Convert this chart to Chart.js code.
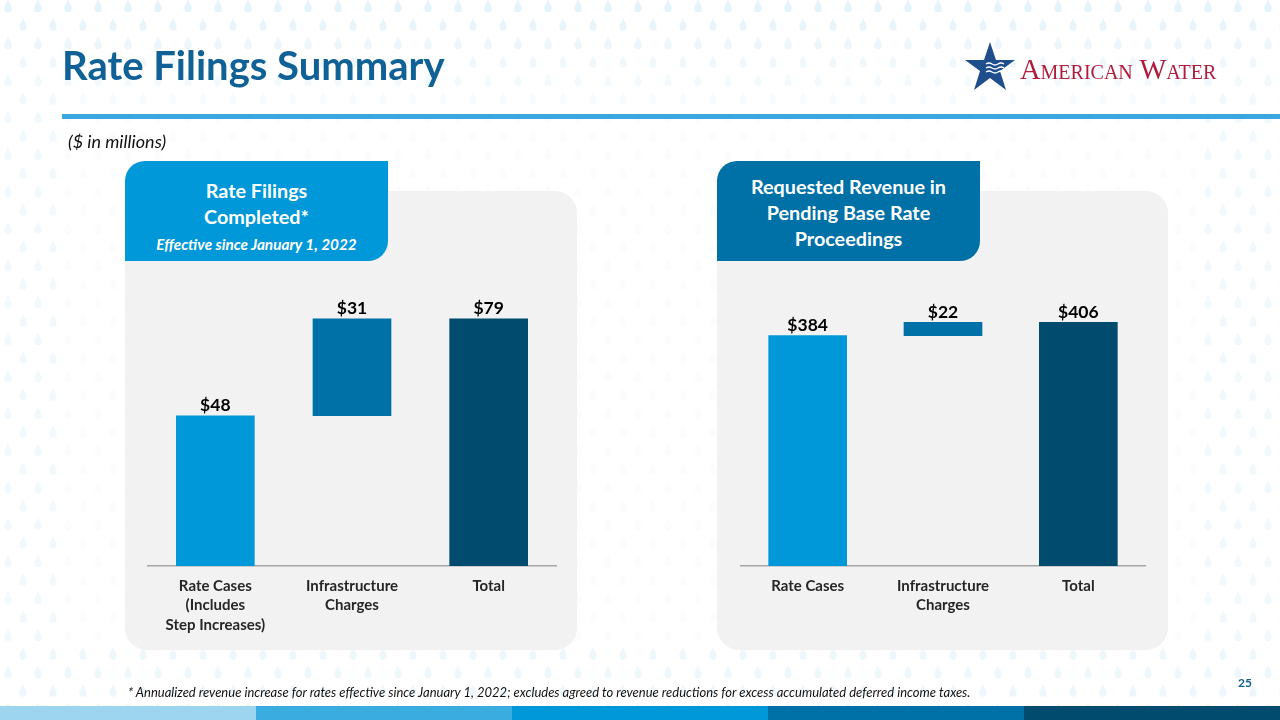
<!DOCTYPE html>
<html>
<head>
<meta charset="utf-8">
<script src="https://cdn.jsdelivr.net/npm/chart.js@4.4.1/dist/chart.umd.min.js"></script>
<style>
  body { margin: 0; background: #fff; }
  #slide { position: relative; width: 1280px; height: 720px; overflow: hidden; font-family: Lato, "Open Sans", sans-serif; }
  #bg { position: absolute; left: 0; top: 0; }
  .abs { position: absolute; }
  .title { left: 62px; top: 41px; font-size: 40px; font-weight: 700; color: #0F6196; }
  .rule { left: 62px; top: 114px; width: 1218px; height: 5px; background: #3AA8DE; }
  .units { left: 68px; top: 130px; font-size: 18px; font-style: italic; color: #111; }
  .panel { background: #F2F2F2; border-radius: 22px; }
  .tab { color: #fff; text-align: center; font-weight: 700; font-size: 19.8px; line-height: 26px;
         border-radius: 20px 0 20px 0; box-sizing: border-box; }
  .tab i { font-size: 15.3px; font-weight: 700; }
  .foot { left: 128px; top: 684px; font-size: 13px; font-style: italic; color: #111; }
  .page { left: 1238px; top: 675px; font-size: 12px; font-weight: 700; color: #0F6196; }
  .strip { top: 706px; height: 14px; width: 256px; }
</style>
</head>
<body>
<div id="slide">
  <canvas id="bg" width="1280" height="720"></canvas>

  <div class="abs title">Rate Filings Summary</div>

  <svg class="abs" style="left:962px;top:40px" width="270" height="56" viewBox="0 0 270 56">
    <polygon points="28,2 34,20 53,20 38,31 44,50 28,38 12,50 18,31 3,20 22,20" fill="#1F4E8C"/>
    <path d="M24 24 q3 -2 6 0 t6 0 t6 0 M24 28 q3 -2 6 0 t6 0 t6 0 M24 32 q3 -2 6 0 t6 0 t6 0" stroke="#fff" stroke-width="1.3" fill="none"/>
    <text x="58" y="39" font-family="Liberation Serif, serif" font-size="28.5" fill="#B01C3C" style="font-variant: small-caps;">American Water</text>
  </svg>

  <div class="abs rule"></div>
  <div class="abs units">($ in millions)</div>

  <div class="abs panel" style="left:125px;top:191px;width:452px;height:459px"></div>
  <div class="abs tab" style="left:125px;top:161px;width:263px;height:100px;background:#0098D8;padding-top:16px">
    Rate Filings<br>Completed*<br><i>Effective since January 1, 2022</i>
  </div>

  <div class="abs panel" style="left:717px;top:191px;width:451px;height:459px"></div>
  <div class="abs tab" style="left:717px;top:161px;width:263px;height:100px;background:#0071A6;padding-top:12px">
    Requested Revenue in<br>Pending Base Rate<br>Proceedings
  </div>

  <div class="abs" style="left:147px;top:253px;width:410px;height:397px"><canvas id="leftChart"></canvas></div>
  <div class="abs" style="left:740px;top:266px;width:406px;height:384px"><canvas id="rightChart"></canvas></div>

  <div class="abs foot">* Annualized revenue increase for rates effective since January 1, 2022; excludes agreed to revenue reductions for excess accumulated deferred income taxes.</div>
  <div class="abs page">25</div>

  <div class="abs strip" style="left:0;background:#9DD5F0"></div>
  <div class="abs strip" style="left:256px;background:#3AACE0"></div>
  <div class="abs strip" style="left:512px;background:#0098D8"></div>
  <div class="abs strip" style="left:768px;background:#0071A6"></div>
  <div class="abs strip" style="left:1024px;background:#004B6E"></div>
</div>

<script>
//! =============== Data =============== //
const leftCategories = [['Rate Cases', '(Includes', 'Step Increases)'], ['Infrastructure', 'Charges'], 'Total'];
const leftValues = [48, 31, 79];

const rightCategories = ['Rate Cases', ['Infrastructure', 'Charges'], 'Total'];
const rightValues = [384, 22, 406];

const barColors = ['#0098D8', '#0071A6', '#004B6E'];


//! =============== Background drops =============== //
const bg = document.getElementById('bg').getContext('2d');

function drop(x, y, s) {
  bg.beginPath();
  bg.moveTo(x, y - s * 1.1);
  bg.bezierCurveTo(x + s * 0.2, y - s * 0.5, x + s * 0.7, y, x + s * 0.6, y + s * 0.45);
  bg.arc(x, y + s * 0.45, s * 0.6, 0, Math.PI);
  bg.bezierCurveTo(x - s * 0.7, y, x - s * 0.2, y - s * 0.5, x, y - s * 1.1);
  bg.fill();
}

for (let row = 0; row < 40; row++) {
  const y = 6 + row * 18.5;
  const shift = row % 2 ? 15 : 0;
  for (let col = 0; col < 45; col++) {
    const x = 8 + shift + col * 30;
    let a = 0.05;
    if (y < 110) a = 0.26 - y * 0.0019;
    if (y > 640) a = 0.16;
    if (x < 60 || x > 1200) a = Math.max(a, 0.12);
    bg.fillStyle = `rgba(150, 205, 235, ${a})`;
    drop(x, y, 6);
  }
}


//! =============== Charts =============== //
function waterfall(values) {
  return [[0, values[0]], [values[0], values[0] + values[1]], [0, values[2]]];
}

const barLabels = {
  id: 'barLabels',
  afterDatasetsDraw(chart) {
    const { ctx } = chart;
    const vals = chart.options.plugins.barLabels.values;
    chart.getDatasetMeta(0).data.forEach((bar, i) => {
      ctx.save();
      ctx.font = 'bold 17.5px Lato';
      ctx.fillStyle = '#000';
      ctx.textAlign = 'center';
      ctx.textBaseline = 'middle';
      ctx.fillText('$' + vals[i], bar.x, Math.min(bar.y, bar.base) - 10);
      ctx.restore();
    });
  }
};

function makeChart(id, labels, values, max) {
  return new Chart(document.getElementById(id), {
    type: 'bar',
    data: {
      labels: labels,
      datasets: [{
        data: waterfall(values),
        backgroundColor: barColors,
        barThickness: 78,
        borderWidth: 0
      }]
    },
    options: {
      responsive: true,
      maintainAspectRatio: false,
      animation: false,
      layout: { padding: 0 },
      plugins: {
        legend: { display: false },
        tooltip: { enabled: false },
        barLabels: { values: values }
      },
      scales: {
        x: {
          grid: { display: false, drawTicks: false },
          border: { display: true, color: '#A6A6A6', width: 1.5 },
          ticks: {
            padding: 10,
            color: '#262626',
            font: { family: 'Lato', size: 15, weight: 'bold', lineHeight: 1.3 }
          },
          afterFit: s => { s.height = 84; }
        },
        y: { display: false, min: 0, max: max }
      }
    },
    plugins: [barLabels]
  });
}

makeChart('leftChart', leftCategories, leftValues, 100);
makeChart('rightChart', rightCategories, rightValues, 500);
</script>
</body>
</html>
